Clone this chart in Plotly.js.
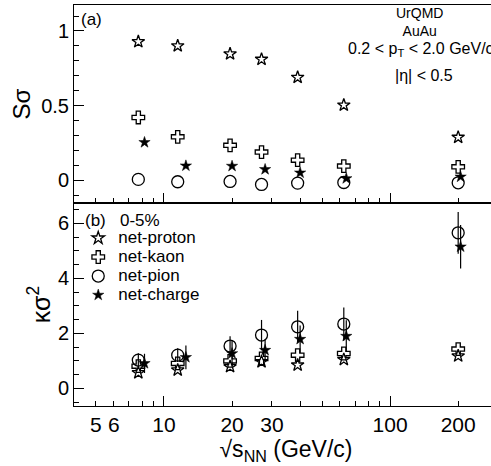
<!DOCTYPE html>
<html>
<head>
<meta charset="utf-8">
<script src="https://cdn.plot.ly/plotly-3.0.1.min.js"></script>
<style>
html, body { margin: 0; padding: 0; overflow: hidden; background: #fff; }
#chart { width: 500px; height: 466px; }
</style>
</head>
<body>
<div id="chart"></div>
<script>
// Collision energies (GeV)
const energies = [7.7, 11.5, 19.6, 27, 39, 62.4, 200];
// net-charge points are drawn slightly offset in energy
const energiesCharge = [8.2, 12.5, 20.0, 28, 40, 64, 205];

// S*sigma (panel a)
const sSigmaProton = [0.928, 0.90, 0.846, 0.81, 0.689, 0.503, 0.287];
const sSigmaKaon   = [0.42, 0.29, 0.233, 0.188, 0.134, 0.094, 0.089];
const sSigmaPion   = [0.005, -0.011, -0.009, -0.029, -0.02, -0.016, -0.018];
const sSigmaCharge = [0.253, 0.096, 0.094, 0.072, 0.049, 0.011, 0.022];

// kappa*sigma^2 (panel b)
const kSigmaProton = [0.57, 0.67, 0.79, 0.97, 0.85, 1.05, 1.18];
const kSigmaKaon   = [0.81, 0.91, 1.0, 1.09, 1.21, 1.27, 1.43];
const kSigmaPion   = [1.03, 1.21, 1.54, 1.94, 2.24, 2.34, 5.66];
const kSigmaCharge = [0.91, 1.13, 1.27, 1.39, 1.79, 1.9, 5.15];
const kErrPion     = [0.25, 0.25, 0.36, 0.55, 0.58, 0.6, 0.76];
const kErrCharge   = [0.35, 0.43, 0.45, 0.38, 0.5, 0.58, 0.79];

// Axis ticks
const xTickVals = [5, 6, 10, 20, 30, 100, 200];
const xTickText = ['5', '6', '10', '20', '30', '100', '200'];
const xMinorVals = [4, 7, 8, 9, 40, 50, 60, 70, 80, 90, 300];
const xLongTickVals = [10, 100];
const ySTickVals = [0, 0.5, 1];
const ySTickText = ['0', '0.5', '1'];
const yKTickVals = [0, 2, 4, 6];
const yKTickText = ['0', '2', '4', '6'];

const names = ['net-proton', 'net-kaon', 'net-pion', 'net-charge'];
const FONT = 'Liberation Sans, Arial, sans-serif';

function legendName(n) {
  return '<span style="font-size:17px">' + n + '</span>';
}

const mk = {
  proton: {symbol: 'star-open', size: 9.5, color: 'black', line: {color: 'black', width: 1.3}},
  kaon:   {symbol: 'cross-open', size: 10.5, color: 'black', line: {color: 'black', width: 1.3}},
  pion:   {symbol: 'circle-open', size: 12, color: 'black', line: {color: 'black', width: 1.3}},
  charge: {symbol: 'star', size: 8.5, color: 'black', line: {color: 'black', width: 0.5}}
};

const errStyle = (arr) => ({type: 'data', array: arr, visible: true, width: 0, thickness: 1.2, color: 'black'});

const traces = [
  // panel a (top)
  {x: energies, y: sSigmaProton, xaxis: 'x2', yaxis: 'y2', mode: 'markers', marker: mk.proton, showlegend: false, hoverinfo: 'none'},
  {x: energies, y: sSigmaKaon, xaxis: 'x2', yaxis: 'y2', mode: 'markers', marker: mk.kaon, showlegend: false, hoverinfo: 'none'},
  {x: energies, y: sSigmaPion, xaxis: 'x2', yaxis: 'y2', mode: 'markers', marker: mk.pion, showlegend: false, hoverinfo: 'none'},
  {x: energiesCharge, y: sSigmaCharge, xaxis: 'x2', yaxis: 'y2', mode: 'markers', marker: mk.charge, showlegend: false, hoverinfo: 'none'},
  // panel b (bottom)
  {x: energies, y: kSigmaProton, xaxis: 'x', yaxis: 'y', mode: 'markers', marker: mk.proton, name: legendName(names[0])},
  {x: energies, y: kSigmaKaon, xaxis: 'x', yaxis: 'y', mode: 'markers', marker: mk.kaon, name: legendName(names[1])},
  {x: energies, y: kSigmaPion, xaxis: 'x', yaxis: 'y', mode: 'markers', marker: mk.pion, error_y: errStyle(kErrPion), name: legendName(names[2])},
  {x: energiesCharge, y: kSigmaCharge, xaxis: 'x', yaxis: 'y', mode: 'markers', marker: mk.charge, error_y: errStyle(kErrCharge), name: legendName(names[3])},
  // empty traces so that the long-tick overlay axes exist
  {x: [], y: [], xaxis: 'x3', yaxis: 'y', showlegend: false},
  {x: [], y: [], xaxis: 'x4', yaxis: 'y2', showlegend: false}
];

const xRange = [Math.log10(4), Math.log10(300)];
const split = 0.506;

const baseX = {
  type: 'log', range: xRange, showline: true, linecolor: 'black', linewidth: 1, mirror: true,
  ticks: 'inside', ticklen: 5, tickwidth: 1, tickcolor: 'black', showgrid: false, zeroline: false,
  tickmode: 'array', tickvals: xTickVals, ticktext: xTickText,
  minor: {tickmode: 'array', tickvals: xMinorVals, ticks: 'inside', ticklen: 5, tickwidth: 1, tickcolor: 'black', showgrid: false}
};

const longX = {
  type: 'log', range: xRange, showline: false, showgrid: false, zeroline: false,
  ticks: 'inside', ticklen: 10, tickwidth: 1, tickcolor: 'black',
  tickmode: 'array', tickvals: xLongTickVals, showticklabels: false
};

const layout = {
  width: 500, height: 466,
  margin: {l: 74, r: 2, t: 5, b: 60},
  paper_bgcolor: 'white', plot_bgcolor: 'white',
  font: {family: FONT, color: 'black'},
  showlegend: true,
  legend: {
    x: 0.01, y: 0.455, xanchor: 'left', yanchor: 'top',
    bgcolor: 'rgba(0,0,0,0)', borderwidth: 0,
    font: {family: FONT, size: 12, color: 'black'},
    itemwidth: 30, tracegroupgap: 0
  },
  xaxis: Object.assign({}, baseX, {
    domain: [0, 1], anchor: 'y',
    showticklabels: true, tickfont: {size: 21, family: FONT}, ticklabelstandoff: 0,
    title: {text: '\u221As<sub>NN</sub> (GeV/c)', font: {size: 23, family: FONT}, standoff: 2}
  }),
  xaxis2: Object.assign({}, baseX, {
    domain: [0, 1], anchor: 'y2', showticklabels: false
  }),
  xaxis3: Object.assign({}, longX, {overlaying: 'x', anchor: 'y'}),
  xaxis4: Object.assign({}, longX, {overlaying: 'x2', anchor: 'y2'}),
  yaxis: {
    domain: [0, split], anchor: 'x', range: [-0.64, 6.74],
    showline: true, linecolor: 'black', linewidth: 1, mirror: true,
    ticks: 'inside', ticklen: 10, tickwidth: 1, tickcolor: 'black', showgrid: false, zeroline: false,
    tickmode: 'array', tickvals: yKTickVals, ticktext: yKTickText, tickfont: {size: 20, family: FONT},
    minor: {dtick: 0.5, ticks: 'inside', ticklen: 5, tickwidth: 1, tickcolor: 'black', showgrid: false},
    title: {text: '\u03BA\u03C3<sup>2</sup>', font: {size: 25, family: FONT}, standoff: 0}
  },
  yaxis2: {
    domain: [split, 1], anchor: 'x2', range: [-0.154, 1.174],
    showline: true, linecolor: 'black', linewidth: 1, mirror: true,
    ticks: 'inside', ticklen: 10, tickwidth: 1, tickcolor: 'black', showgrid: false, zeroline: false,
    tickmode: 'array', tickvals: ySTickVals, ticktext: ySTickText, tickfont: {size: 20, family: FONT},
    minor: {dtick: 0.1, ticks: 'inside', ticklen: 5, tickwidth: 1, tickcolor: 'black', showgrid: false},
    title: {text: 'S\u03C3', font: {size: 24, family: FONT}, standoff: 3}
  },
  annotations: [
    {text: '(a)', xref: 'paper', yref: 'paper', x: 0.012, y: 0.963, xanchor: 'left', yanchor: 'middle', showarrow: false, font: {size: 17, family: FONT}},
    {text: '(b)   0-5%', xref: 'paper', yref: 'paper', x: 0.021, y: 0.462, xanchor: 'left', yanchor: 'middle', showarrow: false, font: {size: 17, family: FONT}},
    {text: 'UrQMD<br>AuAu', xref: 'paper', yref: 'paper', x: 0.815, y: 0.958, xanchor: 'center', yanchor: 'middle', showarrow: false, font: {size: 14, family: FONT}},
    {text: '0.2 < p<sub>T</sub> < 2.0 GeV/c', xref: 'paper', yref: 'paper', x: 0.818, y: 0.89, xanchor: 'center', yanchor: 'middle', showarrow: false, font: {size: 16, family: FONT}},
    {text: '|\u03B7| < 0.5', xref: 'paper', yref: 'paper', x: 0.826, y: 0.825, xanchor: 'center', yanchor: 'middle', showarrow: false, font: {size: 16, family: FONT}}
  ]
};

Plotly.newPlot('chart', traces, layout, {staticPlot: true, displayModeBar: false});
</script>
</body>
</html>
